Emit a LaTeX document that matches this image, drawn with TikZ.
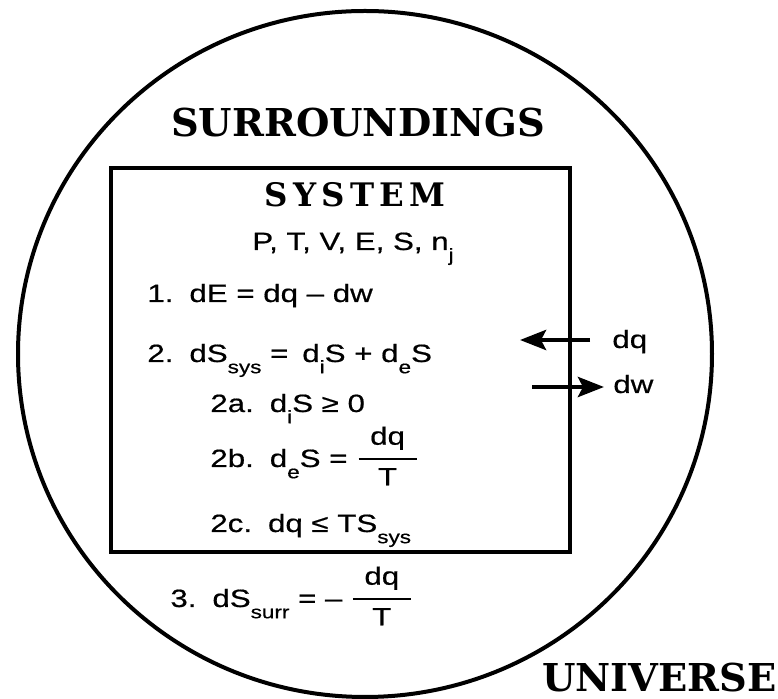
\documentclass[tikz,border=0pt]{standalone}
\usepackage{amsmath}
\usepackage{fontspec}
\setmainfont{Liberation Sans}[FakeStretch=1.25,FakeBold=0.6]
\newfontfamily\headfont{DejaVu Serif}
\newfontfamily\spacedhead{DejaVu Serif}[LetterSpace=16]
\usetikzlibrary{arrows.meta}
\newcommand{\lowsub}[1]{\raisebox{-0.45em}{\fontsize{9pt}{9pt}\selectfont #1}}
\newcommand{\heatfrac}{\raisebox{1pt}{$\genfrac{}{}{1.3pt}{0}{\hbox to 29pt{\hss dq\hss}}{\hbox{T}}$}}
\begin{document}
\begin{tikzpicture}[x=0.5pt,y=-0.5pt,inner sep=0pt,
  eqn/.style={anchor=base west,font=\fontsize{12.5}{15}\selectfont},
  heat/.style={line width=2.2pt,-{Stealth[length=13pt,width=10pt,inset=2.5pt]}}]
  \useasboundingbox (0,0) rectangle (778,699);
  \draw[line width=2pt] (365,354) ellipse (347 and 343);
  \draw[line width=1.6pt] (111,168) rectangle (570,552);
  \node[anchor=base,font=\headfont\bfseries\fontsize{19.2}{22}\selectfont] (surr) at (358,137) {SURROUNDINGS};
  \node[anchor=base east,font=\headfont\bfseries\fontsize{19.2}{22}\selectfont] (univ) at (777,692) {UNIVERSE};
  \node[anchor=base,font=\spacedhead\bfseries\fontsize{16.2}{18}\selectfont] (sys) at (355,207) {SYSTEM};
  \node[eqn,anchor=base] (vars) at (353,250) {P, T, V, E, S, n\lowsub{j}};
  \node[eqn] (eq1) at (147,302) {1.\hspace{8pt}dE = dq -- dw};
  \node[eqn] (eq2) at (147,362) {2.\hspace{8pt}dS\lowsub{sys} =\hspace{7pt}d\lowsub{i}S + d\lowsub{e}S};
  \node[eqn] (eq2a) at (210,412) {2a.\hspace{8pt}d\lowsub{i}S ≥ 0};
  \node[eqn] (eq2b) at (210,467) {2b.\hspace{8pt}d\lowsub{e}S = \heatfrac};
  \node[eqn] (eq2c) at (210,532) {2c.\hspace{8pt}dq ≤ TS\lowsub{sys}};
  \node[eqn] (eq3) at (170,607) {3.\hspace{8pt}dS\lowsub{surr} = --\hspace{4pt}\heatfrac};
  \node[eqn] (dqlab) at (612,348) {dq};
  \node[eqn] (dwlab) at (613,393) {dw};
  \coordinate (qtail) at (590,340);
  \coordinate (qtip) at (520,340);
  \coordinate (wtail) at (532,387);
  \coordinate (wtip) at (604,387);
  \draw[heat] (qtail) -- (qtip);
  \draw[heat] (wtail) -- (wtip);
\end{tikzpicture}
\end{document}
